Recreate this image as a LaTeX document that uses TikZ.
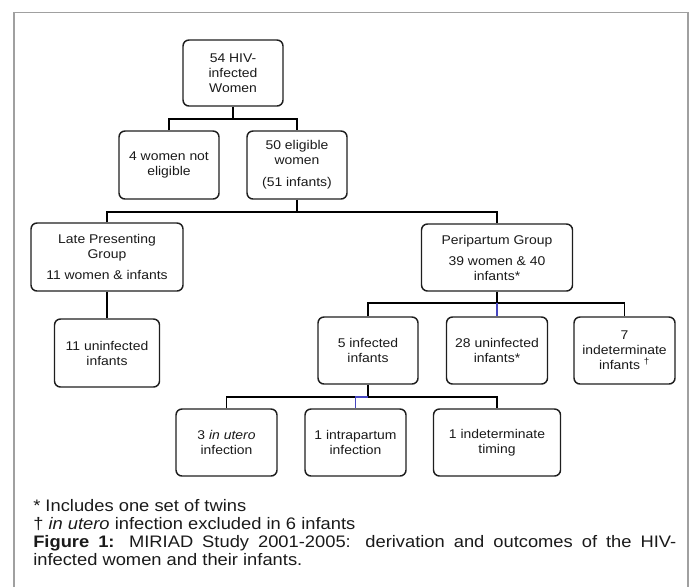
\documentclass[tikz,border=0pt]{standalone}
\usepackage{fontspec}
\setmainfont{Liberation Sans}[FakeStretch=1.1]
\definecolor{boxcol}{HTML}{1E1E1E}
\definecolor{txtcol}{HTML}{1A1A1A}
\definecolor{framecol}{HTML}{A0A0A0}
\definecolor{linkblue}{HTML}{4646C0}
\begin{document}
\begin{tikzpicture}[x=0.75pt,y=-0.75pt,
  box/.style={draw=boxcol, line width=1.1pt, rounded corners=4.5pt, align=center,
    inner sep=0pt, font=\fontsize{9.5pt}{11.25pt}\selectfont, text=txtcol},
  conn/.style={draw=black, line width=1pt},
  trunk/.style={draw=black, line width=1.6pt},
  blueconn/.style={draw=linkblue, line width=1pt},
  note/.style={anchor=base west, inner sep=0pt, font=\fontsize{12.5pt}{13pt}\selectfont, text=txtcol}]
\useasboundingbox (0,0) rectangle (691,587);
% outer frame (open at the bottom)
\draw[framecol, line width=0.8pt] (14,587) -- (14,12.5) -- (688,12.5) -- (688,587);

% boxes
\node[box, minimum width=75pt, minimum height=49.5pt] (top) at (233,73) {54 HIV-\\infected\\Women};
\node[box, minimum width=75pt, minimum height=51pt] (notelig) at (169,165) {4 women not\\eligible};
\node[box, minimum width=75pt, minimum height=51pt] (elig) at (297,165) {50 eligible\\women\\[5pt](51 infants)};
\node[box, minimum width=114pt, minimum height=51pt] (late) at (107,257) {Late Presenting\\Group\\[4.5pt]11 women \& infants};
\node[box, minimum width=113.25pt, minimum height=50.25pt] (peri) at (497,257.5) {Peripartum Group\\[4.5pt]39 women \& 40\\infants*};
\node[box, minimum width=78.75pt, minimum height=51pt] (unf11) at (107,353) {11 uninfected\\infants};
\node[box, minimum width=75pt, minimum height=50.25pt] (inf5) at (368,350.5) {5 infected\\infants};
\node[box, minimum width=75.75pt, minimum height=50.25pt] (unf28) at (497,350.5) {28 uninfected\\infants*};
\node[box, minimum width=75.75pt, minimum height=50.25pt] (ind7) at (624.5,350.5) {7\\indeterminate\\infants \textsuperscript{†}};
\node[box, minimum width=75.75pt, minimum height=50.25pt] (utero) at (226.5,442.5) {3 \textit{in utero}\\infection};
\node[box, minimum width=75.75pt, minimum height=50.25pt] (intra) at (355.5,442.5) {1 intrapartum\\infection};
\node[box, minimum width=95.25pt, minimum height=50.25pt] (timing) at (497,442.5) {1 indeterminate\\timing};

% junctions
\coordinate (j1) at (233,119);
\coordinate (j2) at (297,212);
\coordinate (j3) at (497,303);
\coordinate (j4) at (368,397);

% connectors
\draw[conn] (top.south) -- (j1);
\draw[conn] (notelig.north) |- (j1) -| (elig.north);
\draw[trunk] (elig.south) -- (j2);
\draw[conn] (late.north) |- (j2) -| (peri.north);
\draw[conn] (late.south) -- (unf11.north);
\draw[trunk] (peri.south) -- (j3);
\draw[conn] (inf5.north) |- (j3) -| (ind7.north);
\draw[blueconn] (j3) -- (unf28.north);
\draw[trunk] (inf5.south) -- (j4);
\draw[conn] (utero.north) |- (j4) -| (timing.north);
\draw[blueconn] (j4) -| (intra.north);

% notes
\node[note] (n1) at (33,511) {* Includes one set of twins};
\node[note] (n2) at (33,529) {† \textit{in utero} infection excluded in 6 infants};
\node[note] (n3) at (33,547) {\makebox[482.25pt][s]{\textbf{Figure 1:} MIRIAD Study 2001-2005: derivation and outcomes of the HIV-}};
\node[note] (n4) at (33,565) {infected women and their infants.};
\end{tikzpicture}
\end{document}
